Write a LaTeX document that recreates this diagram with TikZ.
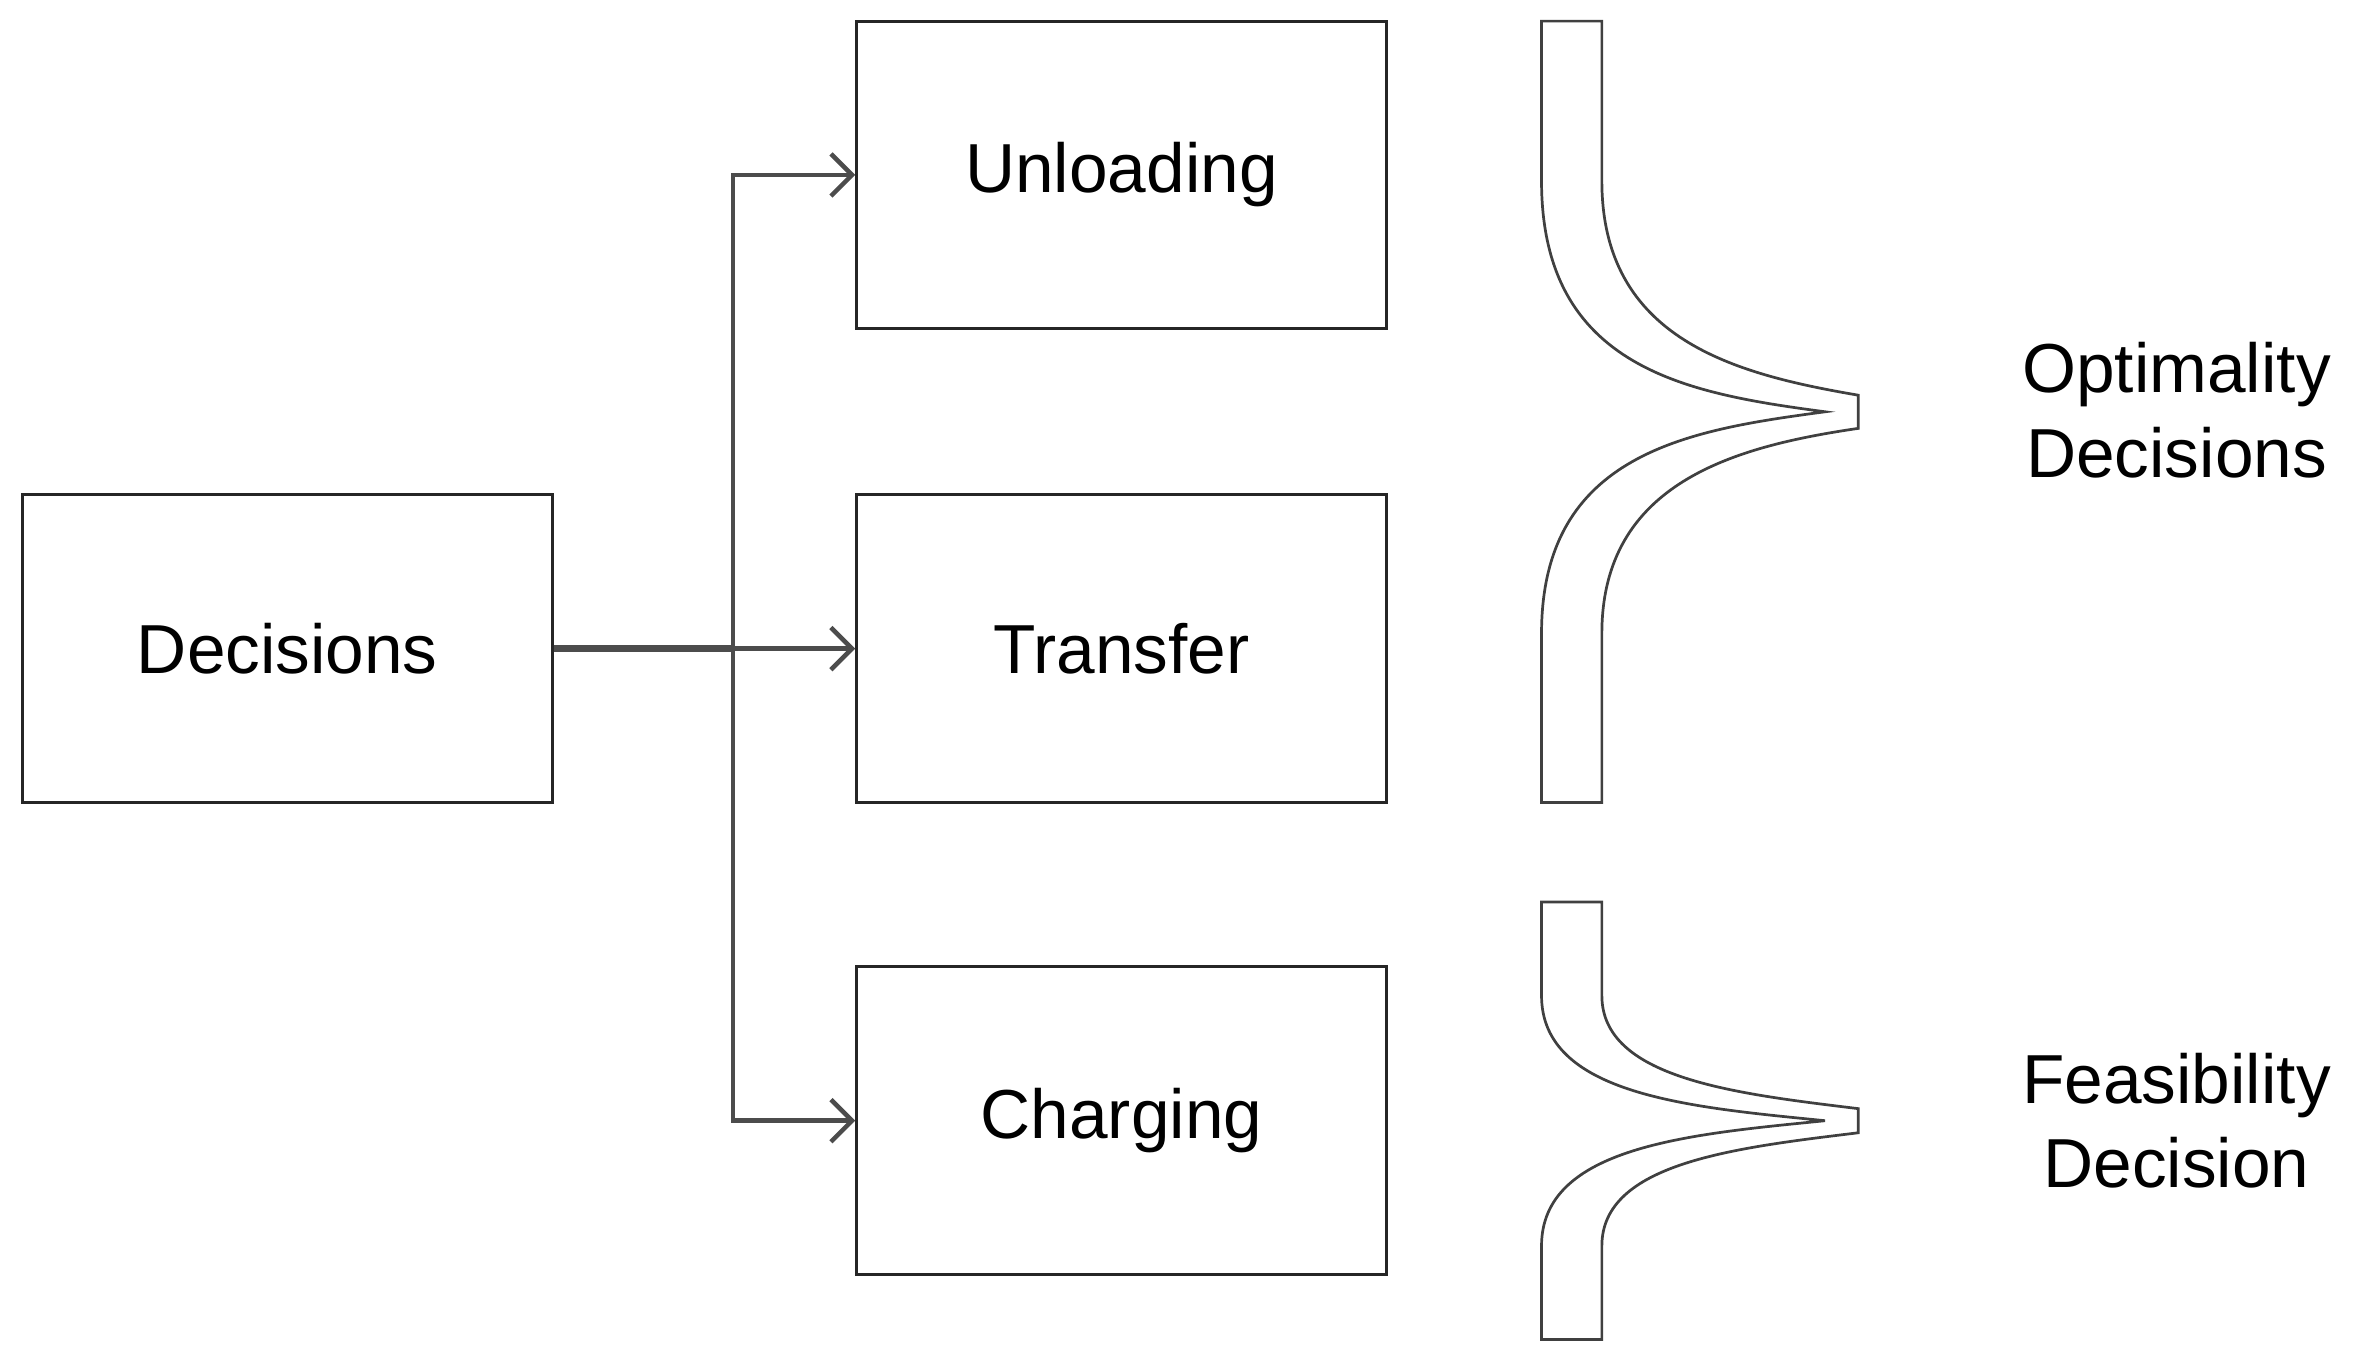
\documentclass[tikz,border=0pt]{standalone}
\usepackage{fontspec}
\setmainfont{Liberation Sans}
\begin{document}
\begin{tikzpicture}[x=1pt,y=-1pt,
 box/.style={draw=black!85,line width=2pt,minimum width=351pt,minimum height=204pt,font=\fontsize{46}{52}\selectfont,inner sep=0pt},
 conn/.style={draw=black!70,line width=3pt,->,>={Straight Barb[length=14pt,width=28pt,line width=3pt]}},
 brace/.style={draw=black!75,line width=1.8pt,fill=white},
 lab/.style={font=\fontsize{46}{56}\selectfont,align=center}]
\usetikzlibrary{arrows.meta}
\useasboundingbox (0,0) rectangle (1560,900);
\node[box] (dec) at (190.5,430) {Decisions};
\node[box] (unl) at (743.5,116) {Unloading};
\node[box] (tra) at (743.5,430) {Transfer};
\node[box] (cha) at (743.5,743) {Charging};
\coordinate (j) at (486,430);
\draw[draw=black!70,line width=5pt] (dec.east) -- (j);
\draw[conn] (j) |- (unl.west);
\draw[conn] (j) -- (tra.west);
\draw[conn] (j) |- (cha.west);
\draw[brace] (1022,14) -- (1062,14) -- (1062,120) .. controls (1062,225) and (1150,248) .. (1232,262) -- (1232,284) .. controls (1150,296) and (1062,320) .. (1062,420) -- (1062,532) -- (1022,532) -- (1022,420) .. controls (1022,300) and (1120,285) .. (1210,273) .. controls (1120,261) and (1022,245) .. (1022,120) -- cycle;
\draw[brace] (1022,598) -- (1062,598) -- (1062,660) .. controls (1062,715) and (1150,725) .. (1232,735) -- (1232,751) .. controls (1150,761) and (1062,771) .. (1062,826) -- (1062,888) -- (1022,888) -- (1022,826) .. controls (1022,760) and (1120,752) .. (1210,743) .. controls (1120,734) and (1022,726) .. (1022,660) -- cycle;
\node[lab] (opt) at (1443,272) {Optimality\\Decisions};
\node[lab] (fea) at (1443,743) {Feasibility\\Decision};
\end{tikzpicture}
\end{document}
